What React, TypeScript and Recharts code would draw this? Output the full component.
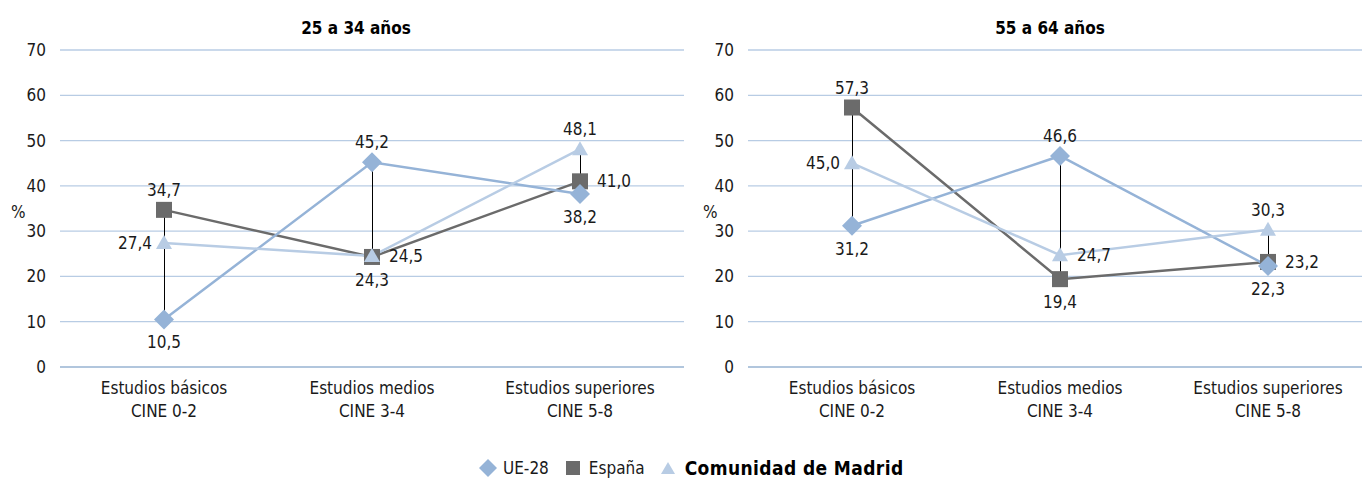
import React from 'react';
import { ComposedChart, Line, Bar, XAxis, YAxis, CartesianGrid, LabelList } from 'recharts';

const catLine1 = ['Estudios básicos', 'Estudios medios', 'Estudios superiores'];
const catLine2 = ['CINE 0-2', 'CINE 3-4', 'CINE 5-8'];
const yTicks = [0, 10, 20, 30, 40, 50, 60, 70];

// 25 a 34 años
const youngUE = [10.5, 45.2, 38.2];
const youngES = [34.7, 24.3, 41.0];
const youngMAD = [27.4, 24.5, 48.1];

// 55 a 64 años
const oldUE = [31.2, 46.6, 22.3];
const oldES = [57.3, 19.4, 23.2];
const oldMAD = [45.0, 24.7, 30.3];

// where each data label sits relative to its marker
const youngPos = { ue: ['bottom', 'top', 'bottom'], es: ['top', 'bottom', 'right'], mad: ['left', 'right', 'top'] };
const oldPos = { ue: ['bottom', 'top', 'bottom'], es: ['top', 'bottom', 'right'], mad: ['left', 'right', 'top'] };

const FONT = "'Liberation Sans Narrow', 'DejaVu Sans Condensed', sans-serif";
const C_UE = '#95b3d7';
const C_ES = '#6b6b6b';
const C_MAD = '#b8cce4';
const TXT = '#1a1a1a';

const fmt = (v: number) => v.toFixed(1).replace('.', ',');

function buildData(ue: number[], es: number[], mad: number[]) {
  return catLine1.map((c, i) => {
    const vals = [ue[i], es[i], mad[i]];
    return {
      name: c,
      ue: ue[i],
      es: es[i],
      mad: mad[i],
      range: [Math.min(...vals), Math.max(...vals)],
    };
  });
}

const diamond = (props: any) => {
  const { cx, cy, index } = props;
  if (cx == null || cy == null) return null;
  const r = 10;
  return <polygon key={`d${index}`} points={`${cx},${cy - r} ${cx + r},${cy} ${cx},${cy + r} ${cx - r},${cy}`} fill={C_UE} />;
};

const square = (props: any) => {
  const { cx, cy, index } = props;
  if (cx == null || cy == null) return null;
  return <rect key={`s${index}`} x={cx - 8} y={cy - 8} width={16} height={16} fill={C_ES} />;
};

const triangle = (props: any) => {
  const { cx, cy, index } = props;
  if (cx == null || cy == null) return null;
  return <polygon key={`t${index}`} points={`${cx},${cy - 8} ${cx + 8},${cy + 6} ${cx - 8},${cy + 6}`} fill={C_MAD} />;
};

const makeLabel = (positions: string[]) => (props: any) => {
  const { x, y, value, index } = props;
  if (x == null || y == null) return null;
  const p = positions[index];
  let tx = x;
  let ty = y;
  let anchor: any = 'middle';
  if (p === 'top') ty = y - 20;
  if (p === 'bottom') ty = y + 23;
  if (p === 'left') { tx = x - 12; anchor = 'end'; }
  if (p === 'right') { tx = x + 17; anchor = 'start'; }
  return (
    <text key={`l${index}`} x={tx} y={ty} textAnchor={anchor} dominantBaseline="central" fontSize={17} fill={TXT} fontFamily={FONT}>
      {fmt(Number(value))}
    </text>
  );
};

const CatTick = (props: any) => {
  const { x, y, payload } = props;
  const i = payload.index;
  return (
    <g>
      <text x={x} y={y + 13} textAnchor="middle" dominantBaseline="central" fontSize={17} fill={TXT} fontFamily={FONT}>
        {catLine1[i]}
      </text>
      <text x={x} y={y + 36} textAnchor="middle" dominantBaseline="central" fontSize={17} fill={TXT} fontFamily={FONT}>
        {catLine2[i]}
      </text>
    </g>
  );
};

interface PanelProps {
  ue: number[];
  es: number[];
  mad: number[];
  pos: { ue: string[]; es: string[]; mad: string[] };
}

function Panel({ ue, es, mad, pos }: PanelProps) {
  const data = buildData(ue, es, mad);
  return (
    <ComposedChart width={688} height={440} data={data} margin={{ top: 50, right: 4, bottom: 13, left: 0 }}>
      <CartesianGrid vertical={false} stroke="#b8cce4" strokeWidth={1.3} />
      <XAxis dataKey="name" tick={<CatTick />} tickLine={false} axisLine={{ stroke: '#a9bfd9', strokeWidth: 1.3 }} height={60} interval={0} />
      <YAxis
        domain={[0, 70]}
        ticks={yTicks}
        width={60}
        axisLine={false}
        tickLine={false}
        tick={{ fontSize: 17, fill: TXT, fontFamily: FONT }}
        tickMargin={8}
      />
      <Bar dataKey="range" fill="#000000" barSize={1} isAnimationActive={false} />
      <Line dataKey="es" stroke={C_ES} strokeWidth={2.5} dot={square} activeDot={false} isAnimationActive={false}>
        <LabelList dataKey="es" content={makeLabel(pos.es)} />
      </Line>
      <Line dataKey="ue" stroke={C_UE} strokeWidth={2.5} dot={diamond} activeDot={false} isAnimationActive={false}>
        <LabelList dataKey="ue" content={makeLabel(pos.ue)} />
      </Line>
      <Line dataKey="mad" stroke={C_MAD} strokeWidth={2.5} dot={triangle} activeDot={false} isAnimationActive={false}>
        <LabelList dataKey="mad" content={makeLabel(pos.mad)} />
      </Line>
    </ComposedChart>
  );
}

export default function App() {
  const titleStyle: React.CSSProperties = {
    position: 'absolute', top: 18, fontFamily: FONT, fontWeight: 'bold', fontSize: 17, color: '#000', transform: 'translateX(-50%)', whiteSpace: 'nowrap',
  };
  const pctStyle: React.CSSProperties = { position: 'absolute', top: 202, fontFamily: FONT, fontSize: 17, color: TXT };
  return (
    <div style={{ position: 'absolute', left: 0, top: 0, width: 1362, height: 479, overflow: 'hidden', background: '#fff', fontFamily: FONT }}>
      <div style={{ ...titleStyle, left: 356 }}>25 a 34 años</div>
      <div style={{ ...titleStyle, left: 1050 }}>55 a 64 años</div>
      <div style={{ ...pctStyle, left: 11 }}>%</div>
      <div style={{ ...pctStyle, left: 703 }}>%</div>
      <div style={{ position: 'absolute', left: 0, top: 0 }}>
        <Panel ue={youngUE} es={youngES} mad={youngMAD} pos={youngPos} />
      </div>
      <div style={{ position: 'absolute', left: 688, top: 0 }}>
        <Panel ue={oldUE} es={oldES} mad={oldMAD} pos={oldPos} />
      </div>
      <div style={{ position: 'absolute', top: 457, left: 478, display: 'flex', alignItems: 'center', fontSize: 17, color: TXT, whiteSpace: 'nowrap' }}>
        <svg width={20} height={20} style={{ marginRight: 5 }}>
          <polygon points="10,1 19,10 10,19 1,10" fill={C_UE} />
        </svg>
        <span style={{ marginRight: 17 }}>UE-28</span>
        <svg width={14} height={14} style={{ marginRight: 9 }}>
          <rect x={0} y={0} width={14} height={14} fill={C_ES} />
        </svg>
        <span style={{ marginRight: 16 }}>España</span>
        <svg width={14} height={14} style={{ marginRight: 10 }}>
          <polygon points="7,1 14,13 0,13" fill={C_MAD} />
        </svg>
        <span style={{ fontWeight: 'bold', color: '#000', fontSize: 19, letterSpacing: 0.4 }}>Comunidad de Madrid</span>
      </div>
    </div>
  );
}
